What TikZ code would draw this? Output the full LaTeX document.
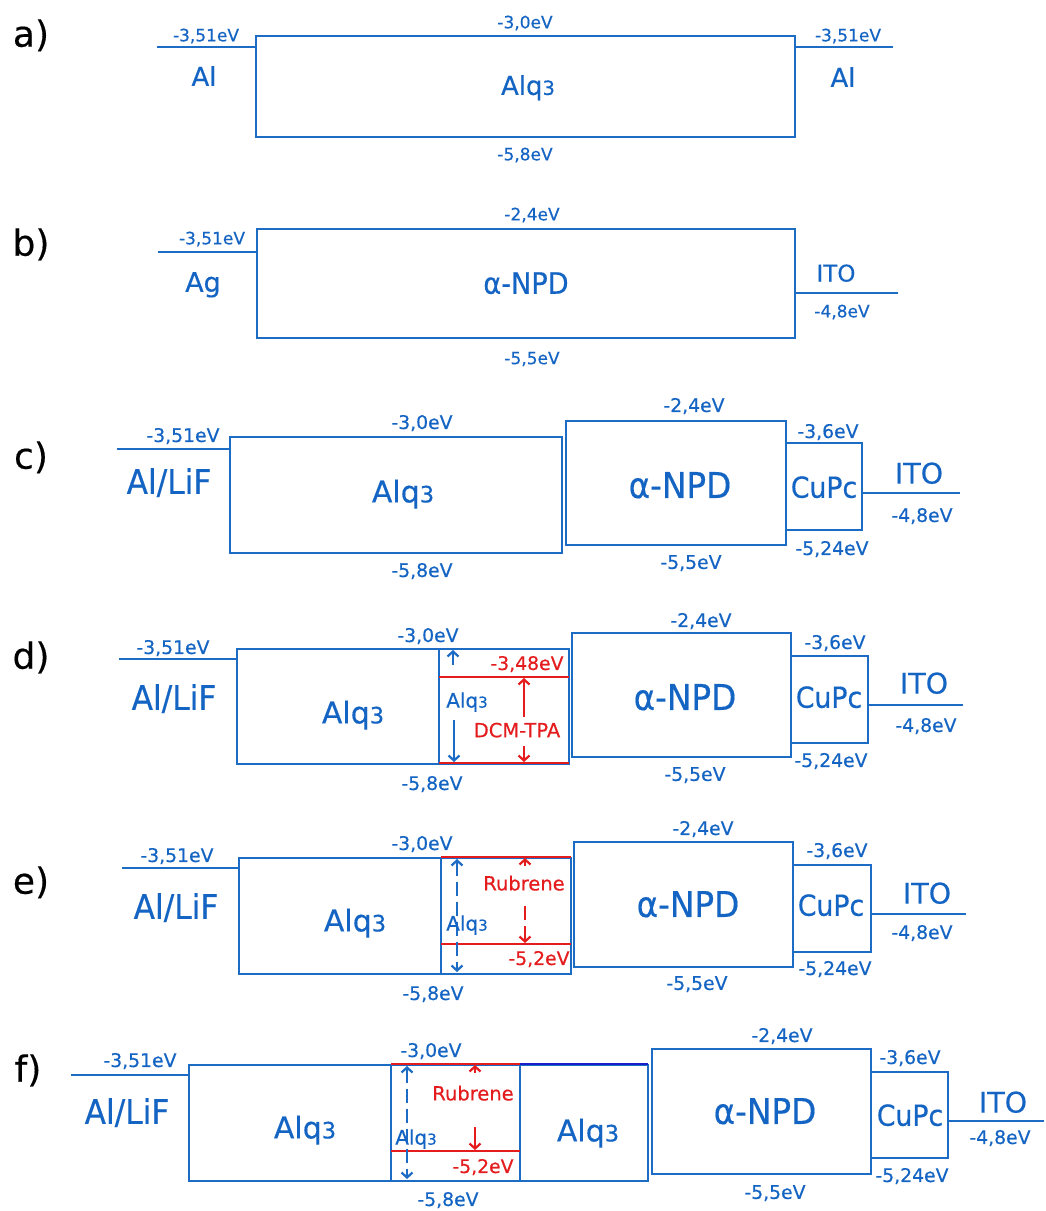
\documentclass[tikz,border=0pt]{standalone}
\usepackage{fontspec}
\setmainfont{DejaVu Sans}[FakeBold=0.4]
\newfontfamily\cfont{DejaVu Sans}[FakeStretch=0.92,FakeBold=0.4]
\usetikzlibrary{arrows.meta}
\definecolor{lb}{RGB}{28,108,198}
\definecolor{tb}{RGB}{20,100,196}
\definecolor{lr}{RGB}{228,28,30}
\definecolor{nv}{RGB}{24,30,200}
\newcommand\alqt{Alq\scalebox{0.75}{3}}
\tikzset{
  lvl/.style={draw=lb,line width=2.9pt},
  rlvl/.style={draw=lr,line width=2.9pt},
  txt/.style={inner sep=0pt,text depth=0pt},
  evs/.style={txt,text=tb,font=\fontsize{17}{17}\selectfont},
  ev/.style={txt,text=tb,font=\fontsize{18.8}{18.8}\selectfont},
  evr/.style={txt,text=lr,font=\fontsize{18.8}{18.8}\selectfont},
  biga/.style={txt,text=tb,font=\fontsize{26}{26}\selectfont},
  bigb/.style={txt,text=tb,font=\fontsize{27}{27}\selectfont},
  npdb/.style={txt,text=tb,font=\cfont\fontsize{29.5}{29.5}\selectfont},
  itob/.style={txt,text=tb,font=\fontsize{23}{23}\selectfont},
  big/.style={txt,text=tb,font=\fontsize{30}{30}\selectfont},
  npd/.style={txt,text=tb,font=\cfont\fontsize{35.5}{35.5}\selectfont},
  lif/.style={txt,text=tb,font=\cfont\fontsize{34}{34}\selectfont},
  cupc/.style={txt,text=tb,font=\cfont\fontsize{29}{29}\selectfont},
  ito/.style={txt,text=tb,font=\fontsize{28.5}{28.5}\selectfont},
  sm/.style={txt,text=tb,font=\fontsize{20}{20}\selectfont},
  smr/.style={txt,text=lr,font=\fontsize{19.5}{19.5}\selectfont},
  panel/.style={txt,text=black,font=\fontsize{36}{36}\selectfont},
  barr/.style={draw=lb,line width=2.2pt,-{Straight Barb[length=5pt,width=11pt]}},
  rarr/.style={draw=lr,line width=2.2pt,-{Straight Barb[length=5pt,width=11pt]}},
  bdarr/.style={draw=lb,line width=2.2pt,dash pattern=on 14pt off 6pt,{Straight Barb[length=5pt,width=11pt]}-{Straight Barb[length=5pt,width=11pt]}},
  rdarr/.style={draw=lr,line width=2.2pt,dash pattern=on 14pt off 6pt,-{Straight Barb[length=5pt,width=11pt]}},
}
\begin{document}
\begin{tikzpicture}[x=1pt,y=-1pt]
\useasboundingbox[fill=white] (0,0) rectangle (1045,1211);

% ---------------- a)
\node[panel] (pa) at (31,33) {a)};
\draw[lvl] (157,47) -- (256,47);
\draw[lvl] (256,36) rectangle (795,137);
\draw[lvl] (795,47) -- (893,47);
\node[evs] (a1) at (206,35) {-3,51eV};
\node[biga] (a2) at (204,76) {Al};
\node[evs] (a3) at (525,22) {-3,0eV};
\node[biga] (a4) at (528,85) {\alqt};
\node[evs] (a5) at (525,154) {-5,8eV};
\node[evs] (a6) at (848,35) {-3,51eV};
\node[biga] (a7) at (843,77) {Al};

% ---------------- b)
\node[panel] (pb) at (31,242) {b)};
\draw[lvl] (158,252) -- (257,252);
\draw[lvl] (257,229) rectangle (795,338);
\draw[lvl] (795,293) -- (898,293);
\node[evs] (b1) at (212,238) {-3,51eV};
\node[bigb] (b2) at (203,282) {Ag};
\node[evs] (b3) at (532,214) {-2,4eV};
\node[npdb] (b4) at (526,283) {α-NPD};
\node[evs] (b5) at (532,358) {-5,5eV};
\node[itob] (b6) at (836,273) {ITO};
\node[evs] (b7) at (842,311) {-4,8eV};

% ---------------- c)
\node[panel] (pc) at (31,455) {c)};
\draw[lvl] (117,449) -- (230,449);
\draw[lvl] (230,437) rectangle (562,553);
\draw[lvl] (566,421) rectangle (786,545);
\draw[lvl] (786,443) rectangle (862,530);
\draw[lvl] (862,493) -- (960,493);
\node[ev] (c1) at (183,435) {-3,51eV};
\node[lif] (c2) at (169,481) {Al/LiF};
\node[ev] (c3) at (422,422) {-3,0eV};
\node[big] (c4) at (403,491) {\alqt};
\node[ev] (c5) at (422,570) {-5,8eV};
\node[ev] (c6) at (694,405) {-2,4eV};
\node[npd] (c7) at (680,485) {α-NPD};
\node[ev] (c8) at (691,562) {-5,5eV};
\node[ev] (c9) at (828,431) {-3,6eV};
\node[cupc] (c10) at (824,487) {CuPc};
\node[ev] (c11) at (832,548) {-5,24eV};
\node[ito] (c12) at (919,473) {ITO};
\node[ev] (c13) at (922,515) {-4,8eV};

% ---------------- d)
\node[panel] (pd) at (31,655) {d)};
\draw[lvl] (119,659) -- (237,659);
\draw[lvl] (237,649) rectangle (439,764);
\draw[lvl] (439,649) rectangle (569,764);
\draw[rlvl] (439,677) -- (569,677);
\draw[rlvl] (439,763) -- (569,763);
\draw[lvl] (572,633) rectangle (791,757);
\draw[lvl] (791,656) rectangle (868,743);
\draw[lvl] (868,705) -- (963,705);
\node[ev] (d1) at (173,647) {-3,51eV};
\node[lif] (d2) at (174,697) {Al/LiF};
\node[big] (d3) at (353,712) {\alqt};
\node[ev] (d4) at (428,635) {-3,0eV};
\node[ev] (d5) at (432,783) {-5,8eV};
\node[evr] (d6) at (527,663) {-3,48eV};
\node[sm] (d7) at (467,700) {\alqt};
\node[smr] (d8) at (517,730) {DCM-TPA};
\coordinate (d9a) at (453,665); \coordinate (d9b) at (453,650);
\coordinate (d10a) at (454,720); \coordinate (d10b) at (454,762);
\coordinate (d11a) at (524,717); \coordinate (d11b) at (524,678);
\coordinate (d12a) at (524,746); \coordinate (d12b) at (524,762);
\draw[barr] (d9a) -- (d9b);
\draw[barr] (d10a) -- (d10b);
\draw[rarr] (d11a) -- (d11b);
\draw[rarr] (d12a) -- (d12b);
\node[ev] (d13) at (701,620) {-2,4eV};
\node[npd] (d14) at (685,697) {α-NPD};
\node[ev] (d15) at (695,774) {-5,5eV};
\node[ev] (d16) at (835,642) {-3,6eV};
\node[cupc] (d17) at (829,697) {CuPc};
\node[ev] (d18) at (831,760) {-5,24eV};
\node[ito] (d19) at (924,683) {ITO};
\node[ev] (d20) at (926,725) {-4,8eV};

% ---------------- e)
\node[panel] (pe) at (31,880) {e)};
\draw[lvl] (122,868) -- (239,868);
\draw[lvl] (239,858) rectangle (441,974);
\draw[lvl] (441,858) rectangle (571,974);
\draw[rlvl] (441,857) -- (571,857);
\draw[rlvl] (441,944) -- (571,944);
\draw[lvl] (574,842) rectangle (793,967);
\draw[lvl] (793,865) rectangle (871,952);
\draw[lvl] (871,914) -- (966,914);
\node[ev] (e1) at (177,855) {-3,51eV};
\node[lif] (e2) at (176,906) {Al/LiF};
\node[big] (e3) at (355,920) {\alqt};
\node[ev] (e4) at (422,843) {-3,0eV};
\node[ev] (e5) at (433,993) {-5,8eV};
\coordinate (e6a) at (457,859); \coordinate (e6b) at (457,972);
\draw[bdarr] (e6a) -- (e6b);
\node[sm] (e7) at (467,923) {\alqt};
\coordinate (e8a) at (525,866); \coordinate (e8b) at (525,858);
\draw[rarr] (e8a) -- (e8b);
\node[smr] (e9) at (524,883) {Rubrene};
\coordinate (e10a) at (525,906); \coordinate (e10b) at (525,943);
\draw[rdarr] (e10a) -- (e10b);
\node[evr] (e11) at (539,958) {-5,2eV};
\node[ev] (e12) at (703,828) {-2,4eV};
\node[npd] (e13) at (688,904) {α-NPD};
\node[ev] (e14) at (697,983) {-5,5eV};
\node[ev] (e15) at (837,850) {-3,6eV};
\node[cupc] (e16) at (831,905) {CuPc};
\node[ev] (e17) at (835,968) {-5,24eV};
\node[ito] (e18) at (927,893) {ITO};
\node[ev] (e19) at (922,932) {-4,8eV};

% ---------------- f)
\node[panel] (pf) at (28,1068) {f)};
\draw[lvl] (71,1075) -- (189,1075);
\draw[lvl] (189,1065) rectangle (391,1181);
\draw[lvl] (391,1065) rectangle (520,1181);
\draw[lvl] (520,1065) rectangle (648,1181);
\draw[rlvl] (391,1064) -- (520,1064);
\draw[rlvl] (391,1151) -- (520,1151);
\draw[draw=nv,line width=2.9pt] (520,1064) -- (648,1064);
\draw[lvl] (652,1049) rectangle (871,1174);
\draw[lvl] (871,1072) rectangle (948,1158);
\draw[lvl] (948,1121) -- (1044,1121);
\node[ev] (f1) at (140,1060) {-3,51eV};
\node[lif] (f2) at (127,1111) {Al/LiF};
\node[big] (f3) at (305,1127) {\alqt};
\node[ev] (f4) at (431,1050) {-3,0eV};
\node[ev] (f5) at (448,1199) {-5,8eV};
\coordinate (f6a) at (407,1066); \coordinate (f6b) at (407,1179);
\draw[bdarr] (f6a) -- (f6b);
\node[sm] (f7) at (416,1137) {\alqt};
\coordinate (f8a) at (475,1073); \coordinate (f8b) at (475,1065);
\draw[rarr] (f8a) -- (f8b);
\node[smr] (f9) at (473,1093) {Rubrene};
\coordinate (f10a) at (475,1127); \coordinate (f10b) at (475,1150);
\draw[rarr] (f10a) -- (f10b);
\node[evr] (f11) at (483,1166) {-5,2eV};
\node[big] (f12) at (588,1130) {\alqt};
\node[ev] (f13) at (782,1035) {-2,4eV};
\node[npd] (f14) at (765,1111) {α-NPD};
\node[ev] (f15) at (775,1192) {-5,5eV};
\node[ev] (f16) at (910,1057) {-3,6eV};
\node[cupc] (f17) at (910,1115) {CuPc};
\node[ev] (f18) at (912,1175) {-5,24eV};
\node[ito] (f19) at (1003,1102) {ITO};
\node[ev] (f20) at (1000,1137) {-4,8eV};
\end{tikzpicture}
\end{document}
